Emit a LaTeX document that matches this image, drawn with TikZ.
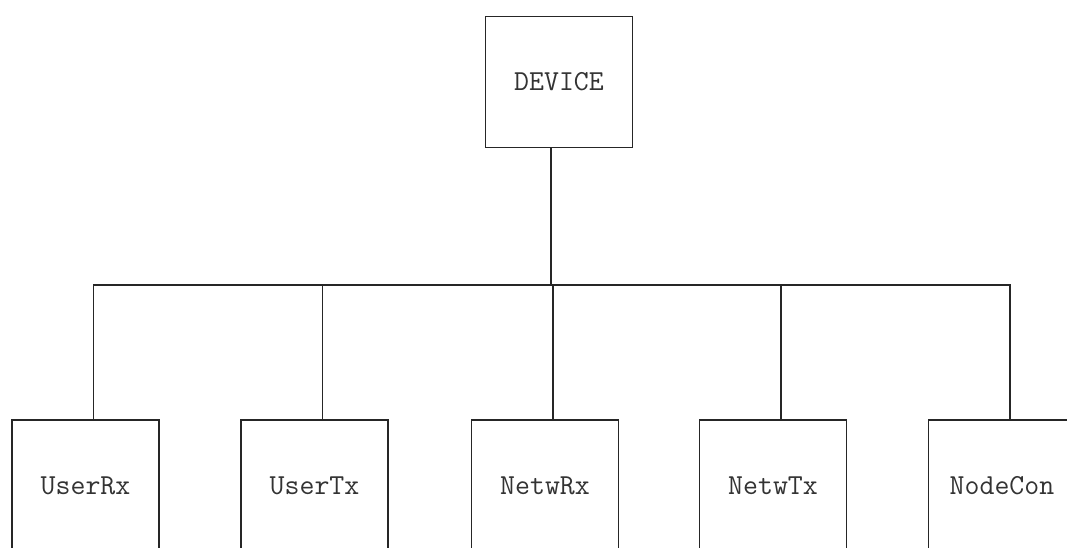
\documentclass[tikz,border=0pt]{standalone}
\begin{document}
\begin{tikzpicture}[x=1pt,y=-1pt,
  box/.style={draw=black!85, line width=1.2pt, minimum width=147pt, minimum height=131pt,
    inner sep=0pt, font=\ttfamily\fontsize{29}{33}\selectfont, text=black!80},
  wire/.style={draw=black!85, line width=1.2pt}]
\useasboundingbox (0,0) rectangle (1067,548);
\clip (0,0) rectangle (1067,548);
\node[box] (device) at (559,82) {DEVICE};
\node[box] (userrx) at (85.5,485.5) {UserRx};
\node[box] (usertx) at (314.5,485.5) {UserTx};
\node[box] (netwrx) at (545,485.5) {NetwRx};
\node[box] (netwtx) at (773,485.5) {NetwTx};
\node[box] (nodecon) at (1002,485.5) {NodeCon};
\coordinate (bus) at (551,285);
\draw[wire] ([xshift=-8pt]device.south) -- (bus);
\foreach \n in {userrx,usertx,netwrx,netwtx,nodecon}
  \draw[wire] ([xshift=8pt]\n.north) |- (bus);
\end{tikzpicture}
\end{document}
